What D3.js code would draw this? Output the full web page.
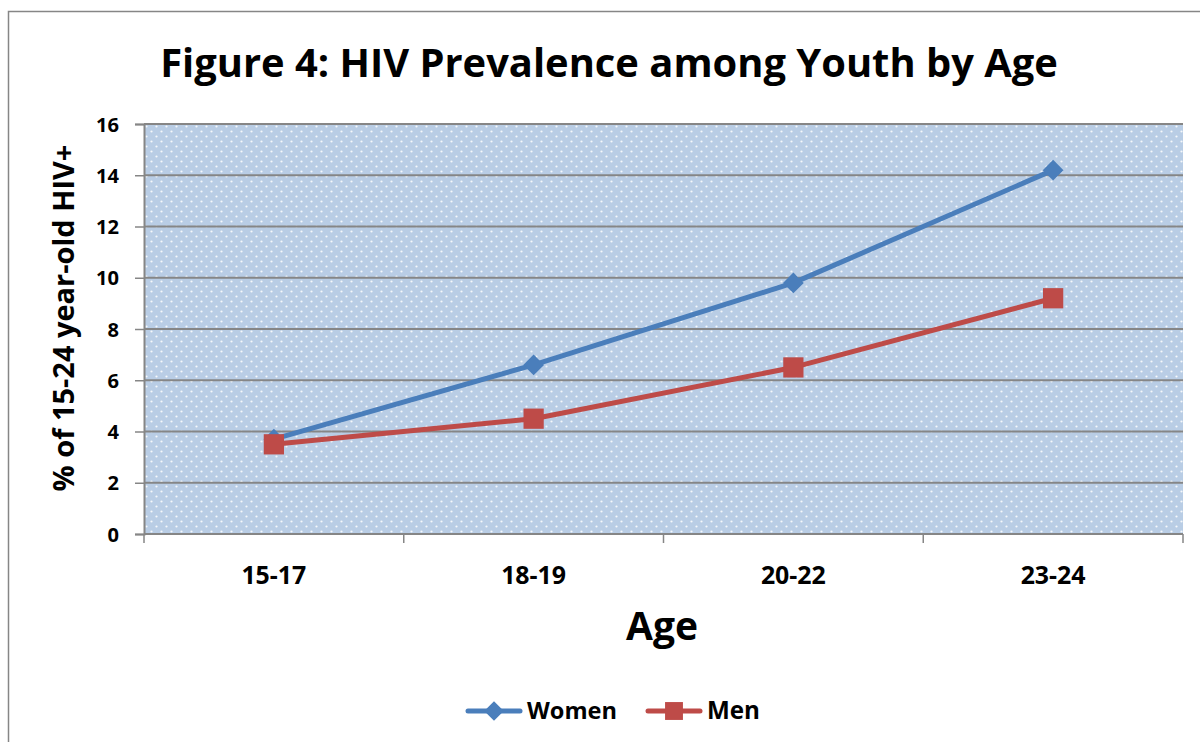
<!DOCTYPE html>
<html>
<head>
<meta charset="utf-8">
<script src="https://cdn.jsdelivr.net/npm/d3@7"></script>
<style>
  body { margin: 0; background: #fff; }
  text { font-family: "Open Sans", "Noto Sans", sans-serif; font-weight: bold; fill: #000; }
</style>
</head>
<body>
<div id="chart"></div>
<script>
// chart data
var ages = ["15-17", "18-19", "20-22", "23-24"];
var women = [3.7, 6.6, 9.8, 14.2];
var men = [3.5, 4.5, 6.5, 9.2];
var yTicks = [0, 2, 4, 6, 8, 10, 12, 14, 16];

var blue = "#4a7ebb";
var red = "#be4b48";

var width = 1200, height = 742;
var margin = {top: 124, right: 17, bottom: 208, left: 144};
var w = width - margin.left - margin.right;
var h = height - margin.top - margin.bottom;

var svg = d3.select("#chart").append("svg")
  .attr("width", width)
  .attr("height", height);

// shrink/grow a label so it spans about the same width as in the original
function fit(sel, size, target) {
  sel.style("font-size", size + "px");
  var len = sel.node().getComputedTextLength();
  var s = size * target / len;
  sel.style("font-size", s + "px");
  return s;
}

// dotted fill like the excel plot area
var defs = svg.append("defs");
var pat = defs.append("pattern")
  .attr("id", "dots")
  .attr("patternUnits", "userSpaceOnUse")
  .attr("width", 10).attr("height", 10);
pat.append("rect").attr("width", 10).attr("height", 10).attr("fill", "#b9cde5");
pat.append("circle").attr("cx", 2.5).attr("cy", 2.5).attr("r", 1.1).attr("fill", "#fff").attr("opacity", 0.85);
pat.append("circle").attr("cx", 7.5).attr("cy", 7.5).attr("r", 1.1).attr("fill", "#fff").attr("opacity", 0.85);

// outer chart frame
svg.append("rect")
  .attr("x", 8.5).attr("y", 11.5)
  .attr("width", 1300).attr("height", 900)
  .attr("fill", "none")
  .attr("stroke", "#868686")
  .attr("stroke-width", 1.5);

var title = svg.append("text")
  .attr("x", 609).attr("y", 77)
  .attr("text-anchor", "middle")
  .text("Figure 4: HIV Prevalence among Youth by Age");
fit(title, 38, 898);

var g = svg.append("g").attr("transform", "translate(" + margin.left + "," + margin.top + ")");

var x = d3.scaleBand().domain(ages).range([0, w]);
var y = d3.scaleLinear().domain([0, 16]).range([h, 0]);

g.append("rect")
  .attr("width", w).attr("height", h)
  .attr("fill", "url(#dots)");

// gridlines
g.append("g")
  .selectAll("line")
  .data(yTicks.slice(1))
  .join("line")
  .attr("x1", 0).attr("x2", w)
  .attr("y1", function(d) { return y(d); })
  .attr("y2", function(d) { return y(d); })
  .attr("stroke", "#868686")
  .attr("stroke-width", 2);

// y axis
var yAxis = g.append("g")
  .call(d3.axisLeft(y).tickValues(yTicks).tickSize(9).tickPadding(16));
yAxis.select(".domain").attr("stroke", "#868686").attr("stroke-width", 2);
yAxis.selectAll(".tick line").attr("stroke", "#868686").attr("stroke-width", 1.5);
yAxis.selectAll("text").attr("dy", "0.35em").attr("font-family", null);
var ySize = fit(yAxis.selectAll("text").filter(function(d) { return d === 16; }), 20, 23);
yAxis.selectAll("text").style("font-size", ySize + "px");

// x axis, ticks between categories
var xAxis = g.append("g").attr("transform", "translate(0," + h + ")");
xAxis.append("line")
  .attr("x1", 0).attr("x2", w)
  .attr("stroke", "#868686").attr("stroke-width", 2);
var bounds = ages.map(function(a) { return x(a); }).concat([w]);
xAxis.selectAll("line.tk")
  .data(bounds)
  .join("line")
  .attr("class", "tk")
  .attr("x1", function(d) { return d; })
  .attr("x2", function(d) { return d; })
  .attr("y1", 0).attr("y2", 9)
  .attr("stroke", "#868686").attr("stroke-width", 1.5);
var xLabels = xAxis.selectAll("text")
  .data(ages)
  .join("text")
  .attr("x", function(d) { return x(d) + x.bandwidth() / 2; })
  .attr("y", 50)
  .attr("text-anchor", "middle")
  .text(function(d) { return d; });
var xSize = fit(xLabels.filter(function(d, i) { return i === 0; }), 20, 65);
xLabels.style("font-size", xSize + "px");

var ageTitle = svg.append("text")
  .attr("x", 662).attr("y", 640)
  .attr("text-anchor", "middle")
  .text("Age");
fit(ageTitle, 40, 72);

var yTitle = svg.append("text")
  .attr("transform", "translate(74,318) rotate(-90)")
  .attr("text-anchor", "middle")
  .text("% of 15-24 year-old HIV+");
fit(yTitle, 22, 347);

var line = d3.line()
  .x(function(d, i) { return x(ages[i]) + x.bandwidth() / 2; })
  .y(function(d) { return y(d); });

function drawSeries(vals, color, rot, size) {
  g.append("path")
    .datum(vals)
    .attr("d", line)
    .attr("fill", "none")
    .attr("stroke", color)
    .attr("stroke-width", 5)
    .attr("stroke-linejoin", "round");
  g.selectAll(null)
    .data(vals)
    .join("path")
    .attr("transform", function(d, i) {
      return "translate(" + (x(ages[i]) + x.bandwidth() / 2) + "," + y(d) + ") rotate(" + rot + ")";
    })
    .attr("d", d3.symbol().type(d3.symbolSquare).size(size))
    .attr("fill", color);
}

drawSeries(women, blue, 45, 215);
drawSeries(men, red, 0, 410);

// legend
var legend = svg.append("g").attr("transform", "translate(0,711)");
var items = [
  {name: "Women", color: blue, rot: 45, size: 190, x: 468, tw: 90},
  {name: "Men", color: red, rot: 0, size: 320, x: 648, tw: 53}
];
items.forEach(function(it) {
  legend.append("line")
    .attr("x1", it.x).attr("x2", it.x + 52)
    .attr("stroke", it.color).attr("stroke-width", 5)
    .attr("stroke-linecap", "round");
  legend.append("path")
    .attr("transform", "translate(" + (it.x + 26) + ",0) rotate(" + it.rot + ")")
    .attr("d", d3.symbol().type(d3.symbolSquare).size(it.size))
    .attr("fill", it.color);
  var t = legend.append("text")
    .attr("x", it.x + 59).attr("y", 0)
    .attr("dy", "0.35em")
    .text(it.name);
  fit(t, 23, it.tw);
});
</script>
</body>
</html>
